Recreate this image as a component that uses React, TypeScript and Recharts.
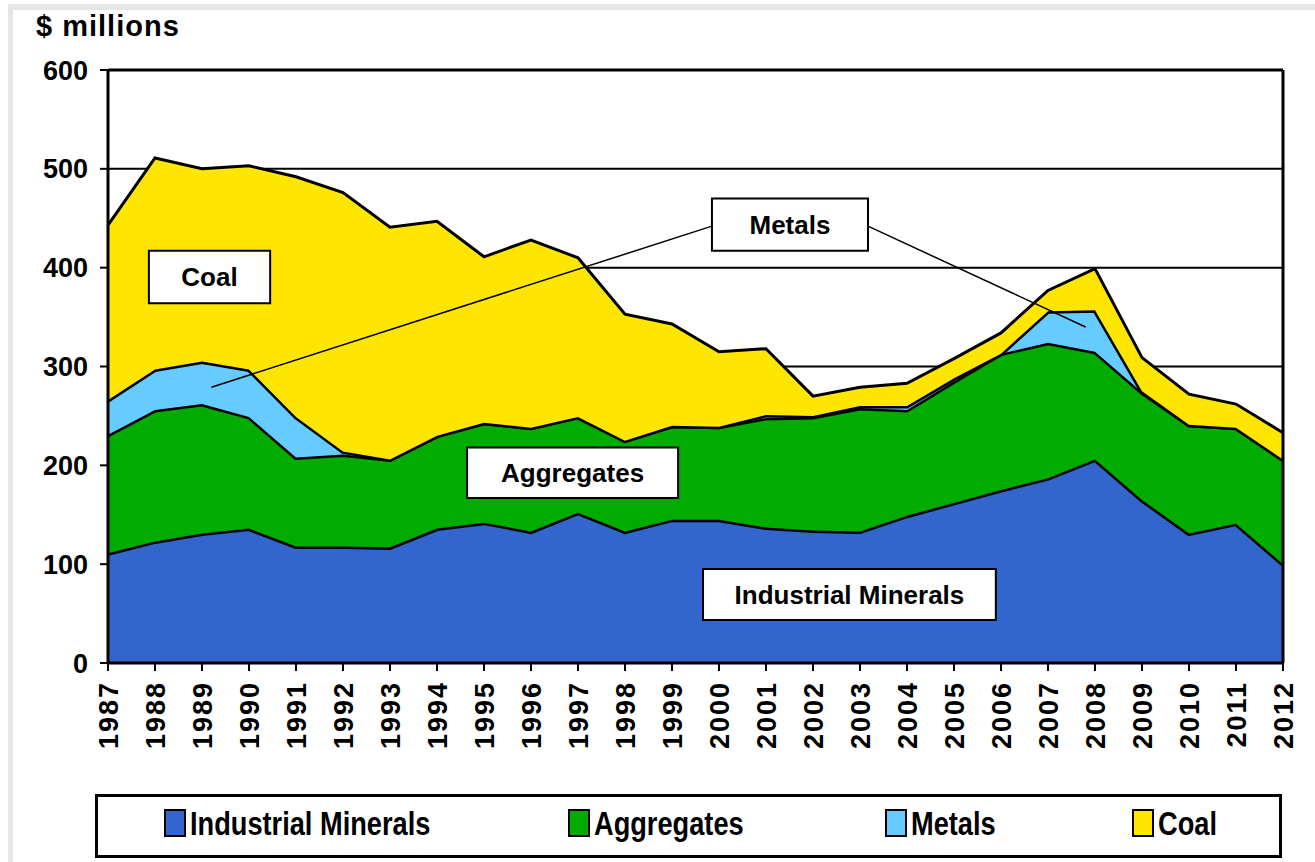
import React from 'react';
import {
  AreaChart,
  Area,
  XAxis,
  YAxis,
  CartesianGrid,
  ReferenceArea,
  ReferenceLine,
  Label
} from 'recharts';

const YEARS = [
  1987, 1988, 1989, 1990, 1991, 1992, 1993, 1994, 1995, 1996, 1997, 1998, 1999,
  2000, 2001, 2002, 2003, 2004, 2005, 2006, 2007, 2008, 2009, 2010, 2011, 2012
];

// $ millions (each value is the band thickness)
const INDUSTRIAL_MINERALS = [
  111, 123, 131, 136, 118, 118, 117, 136, 142, 133, 152, 133, 145,
  145, 137, 134, 133, 149, 162, 175, 187, 206, 165, 131, 141, 100
];
const AGGREGATES = [
  120, 133, 131, 113, 90, 93, 89, 94, 101, 105, 97, 92, 95,
  94, 111, 115, 125, 107, 123, 138, 137, 109, 109, 110, 97, 106
];
const METALS = [
  35, 41, 43, 48, 41, 3, 0, 0, 0, 0, 0, 0, 0,
  0, 3, 1, 2, 4, 3, 0, 32, 42, 1, 0, 0, 0
];
const COAL = [
  177, 214, 195, 206, 243, 262, 235, 217, 168, 190, 161, 128, 103,
  76, 67, 20, 19, 23, 20, 21, 21, 42, 34, 31, 24, 27
];

const Y_TICKS = [0, 100, 200, 300, 400, 500, 600];

const SERIES = [
  { key: 'im', name: 'Industrial Minerals', color: '#3366CC' },
  { key: 'agg', name: 'Aggregates', color: '#00AC00' },
  { key: 'met', name: 'Metals', color: '#66CCFF' },
  { key: 'coal', name: 'Coal', color: '#FFE600' }
];

const chartData = YEARS.map((year, i) => ({
  year,
  im: INDUSTRIAL_MINERALS[i],
  agg: AGGREGATES[i],
  met: METALS[i],
  coal: COAL[i]
}));

const FONT = '"Liberation Sans", Arial, sans-serif';

const YearTick = ({ x, y, payload }: any) => (
  <text
    transform={`translate(${x},${y + 8}) rotate(-90)`}
    textAnchor="end"
    dy="0.36em"
    fontFamily={FONT}
    fontWeight={700}
    fontSize={27}
    letterSpacing={2}
    fill="#000"
  >
    {payload.value}
  </text>
);

const boxLabel = (text: string) => (
  <Label
    value={text}
    position="center"
    fill="#000"
    fontFamily={FONT}
    fontWeight={700}
    fontSize={26}
  />
);

const legendX = [164, 568, 885, 1132];

export default function App() {
  return (
    <div style={{ position: 'absolute', left: 0, top: 0, width: 1315, height: 862, background: '#fff', overflow: 'hidden' }}>
      <div style={{ position: 'absolute', left: 8, top: 4, width: 1307, height: 6, background: '#e6e6e6' }} />
      <div style={{ position: 'absolute', left: 8, top: 4, width: 5, height: 858, background: '#e6e6e6' }} />
      <div
        style={{
          position: 'absolute',
          left: 36,
          top: 12,
          fontFamily: FONT,
          fontWeight: 700,
          fontSize: 29,
          lineHeight: '29px',
          letterSpacing: 1
        }}
      >
        $ millions
      </div>

      <div style={{ position: 'absolute', left: 0, top: 0 }}>
        <AreaChart
          width={1315}
          height={862}
          data={chartData}
          margin={{ top: 70, right: 32, left: 0, bottom: 99 }}
        >
          <CartesianGrid vertical={false} stroke="#000" strokeWidth={2} />
          <XAxis
            dataKey="year"
            type="number"
            domain={[1987, 2012]}
            ticks={YEARS}
            interval={0}
            height={100}
            tick={<YearTick />}
            tickSize={8}
            axisLine={{ stroke: '#000', strokeWidth: 3 }}
            tickLine={{ stroke: '#000', strokeWidth: 2 }}
          />
          <YAxis
            domain={[0, 600]}
            ticks={Y_TICKS}
            width={108}
            tickSize={8}
            tickMargin={12}
            axisLine={{ stroke: '#000', strokeWidth: 3 }}
            tickLine={{ stroke: '#000', strokeWidth: 2 }}
            tick={{ fill: '#000', fontFamily: FONT, fontWeight: 700, fontSize: 27 }}
          />
          {SERIES.map((s) => (
            <Area
              key={s.key}
              type="linear"
              dataKey={s.key}
              name={s.name}
              stackId="1"
              fill={s.color}
              fillOpacity={1}
              stroke="#000"
              strokeWidth={s.key === 'coal' ? 3 : 5}
              isAnimationActive={false}
              dot={false}
              activeDot={false}
            />
          ))}
          <ReferenceLine y={600} stroke="#000" strokeWidth={3} zIndex={900} />
          <ReferenceLine x={2012} stroke="#000" strokeWidth={3} zIndex={900} />

          {/* call-out for Metals: two leader lines from one box */}
          <ReferenceLine
            segment={[{ x: 1999.85, y: 442 }, { x: 1989.2, y: 279 }]}
            stroke="#000"
            strokeWidth={1.5}
            zIndex={1000}
          />
          <ReferenceLine
            segment={[{ x: 2003.17, y: 442 }, { x: 2007.8, y: 340 }]}
            stroke="#000"
            strokeWidth={1.5}
            zIndex={1000}
          />
          <ReferenceArea x1={1987.87} x2={1990.45} y1={364} y2={417} fill="#fff" fillOpacity={1} stroke="#000" strokeWidth={2} zIndex={1100}>
            {boxLabel('Coal')}
          </ReferenceArea>
          <ReferenceArea x1={1999.85} x2={2003.17} y1={417} y2={470} fill="#fff" fillOpacity={1} stroke="#000" strokeWidth={2} zIndex={1100}>
            {boxLabel('Metals')}
          </ReferenceArea>
          <ReferenceArea x1={1994.64} x2={1999.13} y1={167} y2={218} fill="#fff" fillOpacity={1} stroke="#000" strokeWidth={2} zIndex={1100}>
            {boxLabel('Aggregates')}
          </ReferenceArea>
          <ReferenceArea x1={1999.66} x2={2005.89} y1={43.5} y2={95} fill="#fff" fillOpacity={1} stroke="#000" strokeWidth={2} zIndex={1100}>
            {boxLabel('Industrial Minerals')}
          </ReferenceArea>
        </AreaChart>
      </div>

      <div
        style={{
          position: 'absolute',
          left: 95,
          top: 794,
          width: 1187,
          height: 64,
          border: '3px solid #000',
          boxSizing: 'border-box',
          background: '#fff'
        }}
      />
      {SERIES.map((s, i) => (
        <div
          key={s.key}
          style={{
            position: 'absolute',
            left: legendX[i],
            top: 808,
            height: 30,
            display: 'flex',
            alignItems: 'center',
            fontFamily: FONT,
            fontWeight: 700,
            fontSize: 34,
            lineHeight: '30px',
            whiteSpace: 'nowrap'
          }}
        >
          <span
            style={{
              display: 'inline-block',
              width: 22,
              height: 28,
              background: s.color,
              border: '2px solid #000',
              boxSizing: 'border-box',
              marginRight: 4
            }}
          />
          {/* the source uses a condensed face; squeeze the regular one */}
          <span style={{ display: 'inline-block', transform: 'scaleX(0.8)', transformOrigin: 'left center' }}>
            {s.name}
          </span>
        </div>
      ))}
    </div>
  );
}
